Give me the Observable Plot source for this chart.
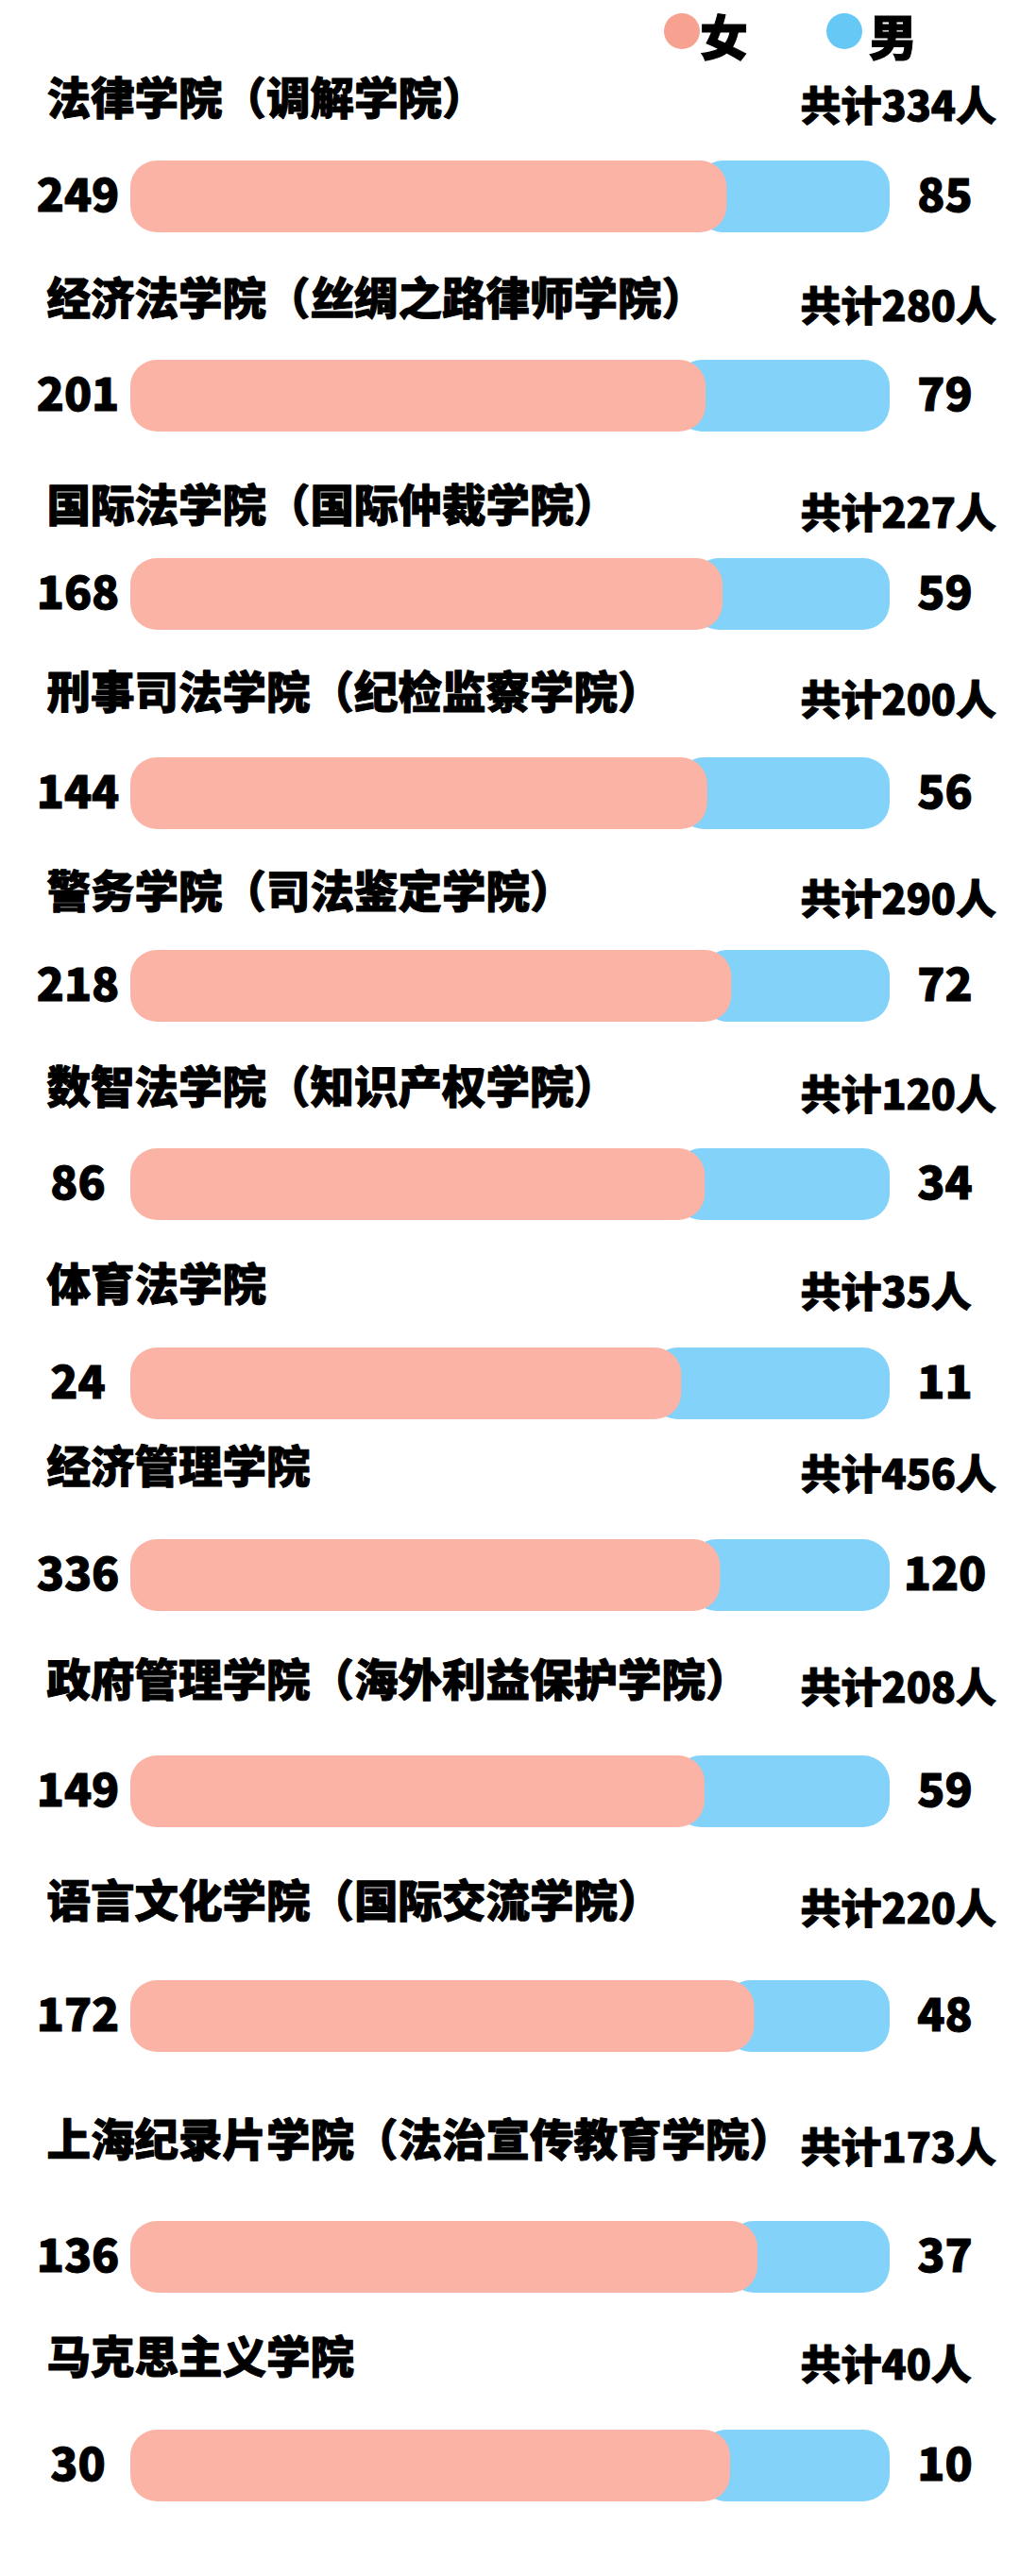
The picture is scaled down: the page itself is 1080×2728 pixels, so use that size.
<!DOCTYPE html>
<html>
<head>
<meta charset="utf-8">
<script src="https://cdn.jsdelivr.net/npm/d3@7"></script>
<script src="https://cdn.jsdelivr.net/npm/@observablehq/plot@0.6"></script>
<style>
  html, body { margin: 0; padding: 0; background: #fff; }
  body { width: 1080px; font-family: "Noto Sans CJK SC Black", "Noto Sans CJK SC", "Noto Sans", sans-serif; }
  #legend { position: relative; height: 58px; }
  .dot { position: absolute; width: 38px; height: 38px; border-radius: 50%; top: 14px; }
  .lab { position: absolute; top: 0; font-size: 51px; font-weight: 900; line-height: normal; color: #000;
         -webkit-text-stroke: 1px #000; }
  #chart > div { display: block; line-height: 0; }
  #chart svg { overflow: visible; }
</style>
</head>
<body>
<div id="legend"></div>
<div id="chart"></div>
<script>
// ---- data ----
const colleges = [
  "法律学院（调解学院）",
  "经济法学院（丝绸之路律师学院）",
  "国际法学院（国际仲裁学院）",
  "刑事司法学院（纪检监察学院）",
  "警务学院（司法鉴定学院）",
  "数智法学院（知识产权学院）",
  "体育法学院",
  "经济管理学院",
  "政府管理学院（海外利益保护学院）",
  "语言文化学院（国际交流学院）",
  "上海纪录片学院（法治宣传教育学院）",
  "马克思主义学院"
];
const female = [249, 201, 168, 144, 218, 86, 24, 336, 149, 172, 136, 30];
const male   = [85, 79, 59, 56, 72, 34, 11, 120, 59, 48, 37, 10];
const totals = [334, 280, 227, 200, 290, 120, 35, 456, 208, 220, 173, 40];
const genders = ["女", "男"];

// ---- styles / layout ----
const barColors = ["#FAB3A5", "#82D2FA"];
const dotColors = ["#F7A191", "#66C8F5"];
const rowHeights = [211, 210, 211, 204, 210, 211, 203, 229, 238, 255, 221, 267];
const labelRise  = [105, 104, 95, 108, 101, 104, 106, 116, 119, 123, 125, 116];
const FONT = "'Noto Sans CJK SC Black', 'Noto Sans CJK SC', 'Noto Sans', sans-serif";

// legend
const legend = document.getElementById("legend");
const legendPos = [[703, 741], [875, 920]];
genders.forEach((g, i) => {
  const dot = document.createElement("div");
  dot.className = "dot";
  dot.style.left = legendPos[i][0] + "px";
  dot.style.background = dotColors[i];
  legend.appendChild(dot);
  const t = document.createElement("div");
  t.className = "lab";
  t.style.left = legendPos[i][1] + "px";
  t.textContent = g;
  legend.appendChild(t);
});

// rows
const rows = colleges.map((name, i) => ({
  name, female: female[i], male: male[i], total: totals[i]
}));

const textStyle = {fontWeight: 900, fontFamily: FONT, fill: "#000", stroke: "#000", strokeWidth: 1};

const chart = document.getElementById("chart");
rows.forEach((row, i) => {
  const H = rowHeights[i];
  const rise = labelRise[i];
  const plot = Plot.plot({
    width: 1080,
    height: H,
    marginLeft: 138,
    marginRight: 138,
    marginTop: 112,
    marginBottom: H - 188,
    x: {domain: [0, row.total], axis: null},
    style: {background: "transparent", overflow: "visible"},
    marks: [
      // male segment (drawn first, underneath)
      Plot.barX([row], {x1: d => d.female, x2: d => d.female + d.male, fill: barColors[1], rx: 28}),
      // female segment with rounded cap overlapping the male segment
      Plot.barX([row], {x1: 0, x2: d => d.female, fill: barColors[0], rx: 28, insetRight: -32}),
      // left number (female)
      Plot.text([row], {x: 0, text: d => String(d.female), dx: -56, textAnchor: "middle",
        fontSize: 48, ...textStyle}),
      // right number (male)
      Plot.text([row], {x: d => d.total, text: d => String(d.male), dx: 58, textAnchor: "middle",
        fontSize: 48, ...textStyle}),
      // college name
      Plot.text([row], {text: "name", frameAnchor: "left", textAnchor: "start", dx: -89, dy: -rise + 3,
        fontSize: 46.5, ...textStyle}),
      // total
      Plot.text([row], {text: d => "共计" + d.total + "人", frameAnchor: "left", textAnchor: "start",
        dx: 709, dy: -rise + 11, fontSize: 43, ...textStyle})
    ]
  });
  const wrap = document.createElement("div");
  wrap.appendChild(plot);
  chart.appendChild(wrap);
});
</script>
</body>
</html>
